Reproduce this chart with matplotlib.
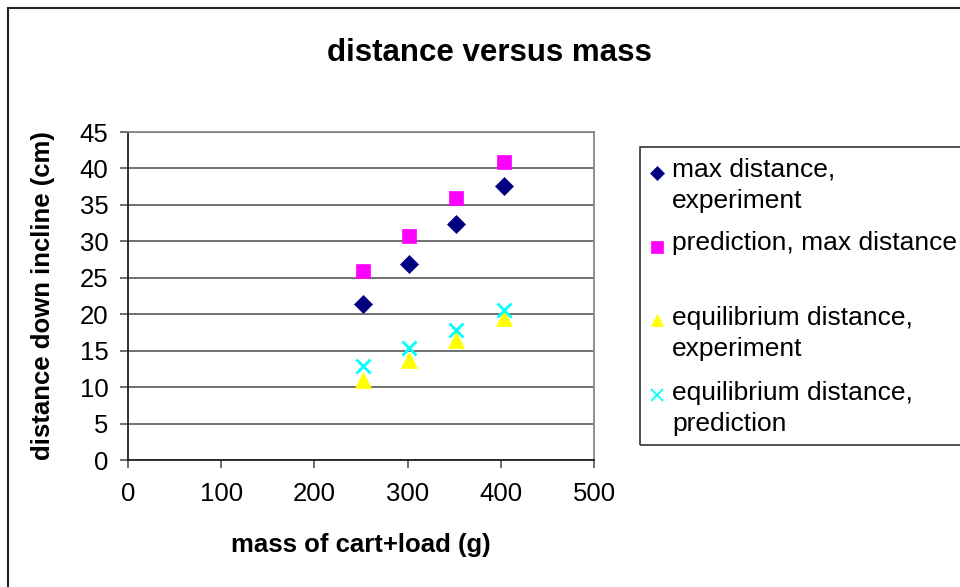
import matplotlib
matplotlib.use("Agg")
import matplotlib.pyplot as plt
from matplotlib.patches import Rectangle
from matplotlib.lines import Line2D

plt.rcParams['font.family'] = ['Liberation Sans', 'DejaVu Sans']

# cart + load mass (g)
mass = [252, 302, 352, 403]

# distances down the incline (cm)
max_dist_exp = [21.4, 26.9, 32.4, 37.6]
max_dist_pred = [25.9, 30.8, 36.0, 40.9]
eq_dist_exp = [11.0, 13.7, 16.4, 19.5]
eq_dist_pred = [12.9, 15.4, 17.8, 20.6]

series_labels = ["max distance,\nexperiment",
                 "prediction, max distance",
                 "equilibrium distance,\nexperiment",
                 "equilibrium distance,\nprediction"]

x_ticks = [0, 100, 200, 300, 400, 500]
y_ticks = [0, 5, 10, 15, 20, 25, 30, 35, 40, 45]

W, H = 960, 587
fig = plt.figure(figsize=(W / 100, H / 100), dpi=100)
ax = fig.add_axes([128 / W, 1 - 460 / H, 466 / W, 328 / H])

# marker styles: (marker, size, face, edge, edge width)
styles = [
    ('D', 9.5, '#000080', '#000080', 0.5),
    ('s', 10, '#FF00FF', '#FF00FF', 0.5),
    ('^', 11, '#FFFF00', '#FFFF00', 0.5),
    ('x', 10, '#00FFFF', '#00FFFF', 2.0),
]
all_series = [max_dist_exp, max_dist_pred, eq_dist_exp, eq_dist_pred]

for ys, (m, ms, fc, ec, mew) in zip(all_series, styles):
    ax.plot(mass, ys, linestyle='none', marker=m, markersize=ms,
            markerfacecolor=fc, markeredgecolor=ec, markeredgewidth=mew,
            zorder=3, clip_on=False)

ax.set_xlim(0, 500)
ax.set_ylim(0, 45)
ax.set_xticks(x_ticks)
ax.set_yticks(y_ticks)
ax.tick_params(direction='out', length=6, width=1.2, color='#555555',
               labelsize=18.5)
ax.tick_params(axis='x', pad=10)
ax.tick_params(axis='y', pad=8)

ax.yaxis.grid(True, color='#666666', linewidth=1.3)
ax.set_axisbelow(True)
for side in ['top', 'right']:
    ax.spines[side].set_color('#888888')
    ax.spines[side].set_linewidth(1.3)
for side in ['left', 'bottom']:
    ax.spines[side].set_color('#222222')
    ax.spines[side].set_linewidth(1.3)

ax.set_xlabel("mass of cart+load (g)", fontsize=18.5, fontweight='bold',
              va='center')
ax.xaxis.set_label_coords(0.5, (460 - 545) / 328)
ax.set_ylabel("distance down incline (cm)", fontsize=18.5, fontweight='bold',
              va='center')
ax.yaxis.set_label_coords((43 - 128) / 466, 0.5)

fig.text(489 / W, 1 - 53 / H, "distance versus mass", fontsize=22.5,
         fontweight='bold', ha='center', va='center')

# outer chart border, runs off the right and bottom edges
fig.add_artist(Rectangle((8 / W, -0.2), 1.2, 1 - 8 / H + 0.2,
                         transform=fig.transFigure, fill=False,
                         edgecolor='#222222', linewidth=1.5))

# legend box
fig.add_artist(Rectangle((640 / W, 1 - 445 / H), 0.5, (445 - 147) / H,
                         transform=fig.transFigure, fill=False,
                         edgecolor='#333333', linewidth=1.2))

legend_marker_y = [173, 247, 320, 395]
legend_text_y = [170, 243, 318, 393]
legend_ms = [7.5, 8, 9, 8]
for lab, (m, ms, fc, ec, mew), my, ty, lms in zip(series_labels, styles,
                                                  legend_marker_y,
                                                  legend_text_y, legend_ms):
    fig.add_artist(Line2D([657 / W], [1 - my / H], transform=fig.transFigure,
                          marker=m, markersize=lms, markerfacecolor=fc,
                          markeredgecolor=ec,
                          markeredgewidth=1.3 if m == 'x' else 0.5,
                          linestyle='none'))
    for i, line in enumerate(lab.split("\n")):
        fig.text(672 / W, 1 - (ty + 31 * i) / H, line, fontsize=19,
                 ha='left', va='center')

fig.savefig("out.png", dpi=100)
